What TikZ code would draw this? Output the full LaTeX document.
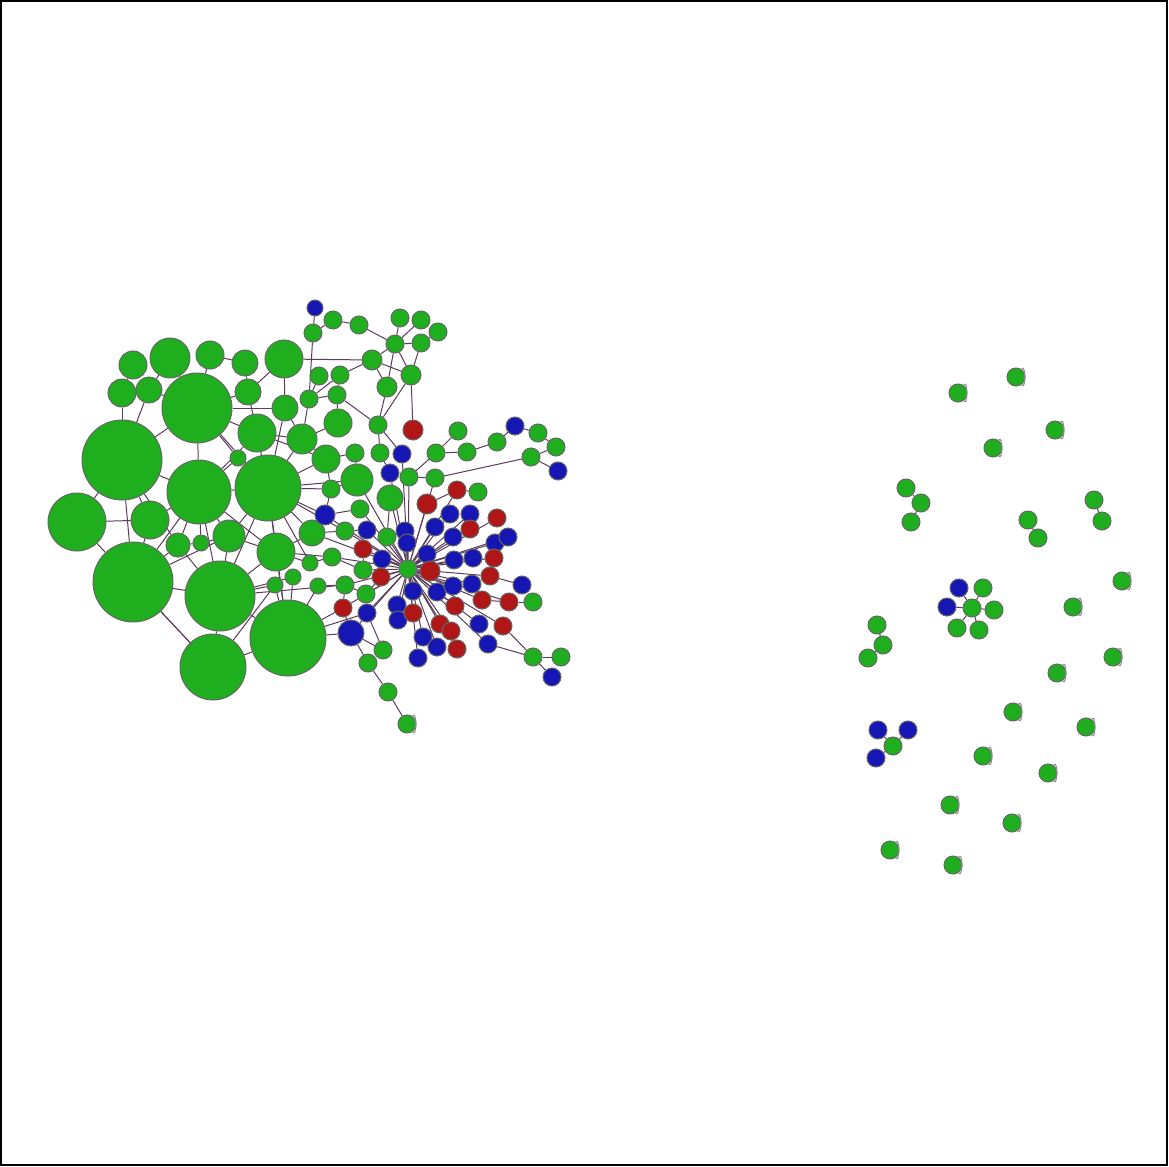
\documentclass[tikz,border=0pt]{standalone}
\usetikzlibrary{backgrounds}
\definecolor{G}{RGB}{30,174,30}
\definecolor{B}{RGB}{22,22,180}
\definecolor{R}{RGB}{176,22,22}
\definecolor{E}{RGB}{90,60,90}
\begin{document}
\begin{tikzpicture}[x=0.5pt,y=-0.5pt,
  base/.style={circle,draw=black!60,line width=0.5pt,inner sep=0pt},
  g/.style={base,fill=G},
  bl/.style={base,fill=B},
  rd/.style={base,fill=R},
  ed/.style={draw=E,line width=0.5pt},
  lp/.style={draw=black!45,line width=0.55pt}]
\newcommand\mynd[5]{\node[#5,minimum size=#4pt] (#1) at (#2,#3) {};}
\useasboundingbox (0,0) rectangle (1169,1167);
\draw[line width=1pt] (1,1) rectangle (1167,1165);
% big and medium green
\mynd{a1}{122}{460}{40}{g}
\mynd{a2}{197}{408}{35}{g}
\mynd{a3}{199}{492}{32}{g}
\mynd{a4}{268}{488}{33}{g}
\mynd{a5}{77}{522}{29}{g}
\mynd{a6}{133}{582}{40}{g}
\mynd{a7}{220}{596}{35}{g}
\mynd{a8}{288}{638}{38}{g}
\mynd{a9}{213}{667}{33}{g}
\mynd{b1}{170}{358}{20}{g}
\mynd{b2}{133}{365}{14}{g}
\mynd{b3}{210}{355}{14}{g}
\mynd{b4}{245}{363}{13}{g}
\mynd{b5}{284}{359}{19}{g}
\mynd{b6}{122}{393}{14}{g}
\mynd{b7}{149}{390}{13}{g}
\mynd{b8}{248}{392}{13}{g}
\mynd{b9}{285}{408}{13}{g}
\mynd{b10}{257}{433}{19}{g}
\mynd{b11}{302}{439}{15}{g}
\mynd{b12}{238}{458}{8}{g}
\mynd{b13}{150}{520}{19}{g}
\mynd{b14}{178}{545}{12}{g}
\mynd{b15}{201}{543}{8}{g}
\mynd{b16}{229}{536}{16}{g}
\mynd{b17}{276}{552}{19}{g}
\mynd{b18}{312}{533}{13}{g}
\mynd{b19}{326}{459}{14}{g}
\mynd{b20}{338}{423}{14}{g}
\mynd{b21}{319}{376}{9}{g}
\mynd{b22}{309}{399}{9}{g}
\mynd{b23}{331}{489}{9}{g}
\mynd{b24}{275}{585}{8}{g}
\mynd{b25}{293}{577}{8}{g}
\mynd{b26}{310}{563}{8}{g}
\mynd{b27}{318}{586}{8}{g}
\mynd{c1}{325}{515}{10}{bl}
% top
\mynd{t1}{315}{308}{8}{bl}
\mynd{t2}{333}{320}{9}{g}
\mynd{t3}{313}{333}{9}{g}
\mynd{t4}{359}{325}{9}{g}
\mynd{t5}{400}{318}{9}{g}
\mynd{t6}{421}{320}{9}{g}
\mynd{t7}{438}{332}{9}{g}
\mynd{t8}{395}{344}{9}{g}
\mynd{t9}{421}{343}{9}{g}
\mynd{t10}{372}{360}{10}{g}
\mynd{t11}{411}{375}{10}{g}
\mynd{t12}{387}{387}{10}{g}
\mynd{t13}{340}{375}{9}{g}
\mynd{t14}{337}{395}{9}{g}
\mynd{t15}{378}{425}{9}{g}
\mynd{t16}{413}{430}{10}{rd}
\mynd{t17}{458}{431}{9}{g}
\mynd{t18}{515}{426}{9}{bl}
\mynd{t19}{538}{433}{9}{g}
\mynd{t20}{556}{447}{9}{g}
\mynd{t21}{497}{442}{9}{g}
\mynd{t22}{467}{452}{9}{g}
\mynd{t23}{436}{453}{9}{g}
\mynd{t24}{402}{454}{9}{bl}
\mynd{t25}{380}{453}{9}{g}
\mynd{t26}{355}{453}{9}{g}
\mynd{t27}{531}{457}{9}{g}
\mynd{t28}{558}{471}{9}{bl}
\mynd{t29}{357}{480}{16}{g}
\mynd{t30}{390}{473}{9}{bl}
\mynd{t31}{409}{477}{9}{g}
\mynd{t32}{435}{478}{9}{g}
\mynd{t33}{390}{498}{13}{g}
\mynd{t34}{457}{490}{9}{rd}
\mynd{t35}{478}{492}{9}{g}
\mynd{t36}{427}{504}{10}{rd}
\mynd{t37}{360}{509}{9}{g}
% centre
\mynd{h}{408}{569}{9}{g}
\mynd{c2}{345}{531}{9}{g}
\mynd{c3}{367}{530}{9}{bl}
\mynd{c4}{387}{537}{9}{g}
\mynd{c5}{405}{531}{9}{bl}
\mynd{c6}{407}{543}{9}{bl}
\mynd{c7}{435}{527}{9}{bl}
\mynd{c8}{450}{514}{9}{bl}
\mynd{c9}{470}{514}{9}{bl}
\mynd{c10}{470}{529}{9}{rd}
\mynd{c11}{497}{518}{9}{rd}
\mynd{c12}{453}{537}{9}{bl}
\mynd{c13}{495}{543}{9}{bl}
\mynd{c14}{508}{537}{9}{bl}
\mynd{c15}{332}{557}{9}{g}
\mynd{c16}{363}{549}{9}{rd}
\mynd{c17}{382}{559}{9}{bl}
\mynd{c18}{427}{554}{9}{bl}
\mynd{c19}{430}{571}{10}{rd}
\mynd{c20}{454}{560}{9}{bl}
\mynd{c21}{473}{558}{9}{bl}
\mynd{c22}{494}{558}{9}{rd}
\mynd{c23}{363}{570}{9}{g}
\mynd{c24}{381}{577}{9}{rd}
\mynd{c25}{490}{576}{9}{rd}
\mynd{c26}{345}{585}{9}{g}
\mynd{c27}{366}{594}{9}{g}
\mynd{c28}{413}{591}{9}{bl}
\mynd{c29}{437}{592}{9}{bl}
\mynd{c30}{453}{586}{9}{bl}
\mynd{c31}{472}{584}{9}{bl}
\mynd{c32}{522}{585}{9}{bl}
\mynd{c33}{482}{600}{9}{rd}
\mynd{c34}{509}{602}{9}{rd}
\mynd{c35}{533}{602}{9}{g}
\mynd{c36}{343}{608}{9}{rd}
\mynd{c37}{367}{613}{9}{bl}
\mynd{c38}{397}{605}{9}{bl}
\mynd{c39}{398}{620}{9}{bl}
\mynd{c40}{413}{613}{9}{rd}
\mynd{c41}{455}{606}{9}{rd}
\mynd{c42}{351}{633}{13}{bl}
\mynd{c43}{440}{624}{9}{rd}
\mynd{c44}{451}{631}{9}{rd}
\mynd{c45}{479}{624}{9}{bl}
\mynd{c46}{503}{626}{9}{rd}
\mynd{c47}{423}{637}{9}{bl}
\mynd{c48}{437}{647}{9}{bl}
\mynd{c49}{457}{649}{9}{rd}
\mynd{c50}{488}{644}{9}{bl}
\mynd{c51}{383}{650}{9}{g}
\mynd{c52}{368}{663}{9}{g}
\mynd{c53}{418}{658}{9}{bl}
\mynd{c54}{533}{657}{9}{g}
\mynd{c55}{561}{657}{9}{g}
\mynd{c56}{552}{677}{9}{bl}
\mynd{c57}{388}{692}{9}{g}
\mynd{c58}{407}{724}{9}{g}
% right side
\mynd{r1}{958}{393}{9}{g}
\mynd{r2}{1016}{377}{9}{g}
\mynd{r3}{1055}{430}{9}{g}
\mynd{r4}{993}{448}{9}{g}
\mynd{r5}{906}{488}{9}{g}
\mynd{r6}{921}{503}{9}{g}
\mynd{r7}{911}{522}{9}{g}
\mynd{r8}{1028}{520}{9}{g}
\mynd{r9}{1038}{538}{9}{g}
\mynd{r10}{1094}{500}{9}{g}
\mynd{r11}{1102}{521}{9}{g}
\mynd{r12}{1122}{581}{9}{g}
\mynd{r13}{1073}{607}{9}{g}
\mynd{s1}{959}{588}{9}{bl}
\mynd{s2}{983}{588}{9}{g}
\mynd{s3}{947}{607}{9}{bl}
\mynd{s4}{972}{608}{9}{g}
\mynd{s5}{994}{610}{9}{g}
\mynd{s6}{957}{628}{9}{g}
\mynd{s7}{979}{630}{9}{g}
\mynd{q1}{877}{625}{9}{g}
\mynd{q2}{883}{645}{9}{g}
\mynd{q3}{868}{658}{9}{g}
\mynd{r14}{1113}{657}{9}{g}
\mynd{r15}{1057}{673}{9}{g}
\mynd{r16}{1013}{712}{9}{g}
\mynd{r17}{1086}{727}{9}{g}
\mynd{p1}{878}{730}{9}{bl}
\mynd{p2}{908}{730}{9}{bl}
\mynd{p3}{893}{746}{9}{g}
\mynd{p4}{876}{758}{9}{bl}
\mynd{r18}{983}{756}{9}{g}
\mynd{r19}{1048}{773}{9}{g}
\mynd{r20}{950}{805}{9}{g}
\mynd{r21}{1012}{823}{9}{g}
\mynd{r22}{890}{850}{9}{g}
\mynd{r23}{953}{865}{9}{g}
\begin{pgfonlayer}{background}
\foreach \v in {c3,c4,c5,c6,c7,c8,c9,c10,c11,c12,c13,c14,c16,c17,c18,c19,c20,c21,c22,c23,c24,c25,c26,c27,c28,c29,c30,c31,c33,c34,c36,c37,c38,c39,c40,c41,c42,c43,c44,c45,c46,c47,c48,c49,c50,c53,t36,t34,t33,t29,t37,t30,t31,t32,t24,c1,c2,c15,b18}
  \draw[ed] (h) -- (\v);
\foreach \u/\v in {c32/c25,c34/c33,c34/c35,c46/c54,c50/c54,c54/c55,c54/c56,c42/c52,c52/c57,c57/c58,c37/c51,c51/c42,
  t32/t27,t27/t20,t27/t28,t19/t20,t18/t19,t21/t18,t22/t21,t23/t22,t23/t17,t23/t31,t31/t32,t34/t35,t36/t34,
  t16/t11,t15/t12,t15/t11,t15/t25,t14/t13,b22/t13,t13/t10,t10/t8,t10/t11,t10/t12,t8/t11,t8/t12,t8/t4,t4/t2,t2/t3,t3/t1,t8/t5,t8/t6,t9/t11,t9/t8,t7/t9,
  b5/t10,t3/b22,b21/b22,b22/t14,t14/t15,t15/t24,t25/t30,t26/b19,
  a1/a2,a1/a3,a1/a5,a1/a6,a1/b13,a1/b6,a1/b7,a2/a3,a2/a4,a2/b1,a2/b3,a2/b10,a2/b12,a3/a4,a3/a6,a3/a7,a3/b13,a3/b14,a3/b15,a3/b16,
  a4/a7,a4/a8,a4/b10,a4/b11,a4/b16,a4/b17,a4/b18,a4/b19,a4/c1,a4/b12,a5/a6,a5/b13,a6/a7,a6/a9,a6/b14,a7/a8,a7/a9,a7/b17,a7/b16,
  a8/b17,a8/b24,a8/b25,a8/b27,a8/c42,a8/c36,a9/a8,a9/a6,b6/b7,b1/b7,b2/b6,b3/b4,b4/b8,b5/b8,b5/b9,b8/b10,b9/b11,b10/b11,
  b11/b20,b11/b19,b19/b23,b20/t14,b22/b11,b17/b26,b17/b18,b18/c1,c1/b23,b17/c15,b26/c15,c15/c23,b27/c26,c26/c27,b18/c2,
  t33/c4,t29/b23,t29/t26,c1/t37,c2/c3,c16/c23,c24/c27,c36/c42,a7/b24,a3/b12,a2/b8,b14/b15,b16/b15,a6/b13,a4/b9,c26/c36,
  a2/b9,a3/b10,a4/b23,a4/c2,a7/b25,a7/c26,a8/c37,a6/b16,a1/b14,a3/b17,a4/b26,a4/t29,b10/b19,b16/b17,a9/b24,a7/b14,a2/b7}
  \draw[ed] (\u) -- (\v);
\foreach \u/\v in {r5/r6,r6/r7,r8/r9,r10/r11,s4/s1,s4/s2,s4/s3,s4/s5,s4/s6,s4/s7,q1/q2,q2/q3,p3/p1,p3/p2,p3/p4}
  \draw[ed] (\u) -- (\v);
\end{pgfonlayer}
\foreach \v in {c58,r1,r2,r3,r4,r12,r13,r14,r15,r16,r17,r18,r19,r20,r21,r22,r23}
  \draw[lp] (\v) to[out=55,in=-55,min distance=4pt,max distance=4pt] (\v);
\end{tikzpicture}
\end{document}
